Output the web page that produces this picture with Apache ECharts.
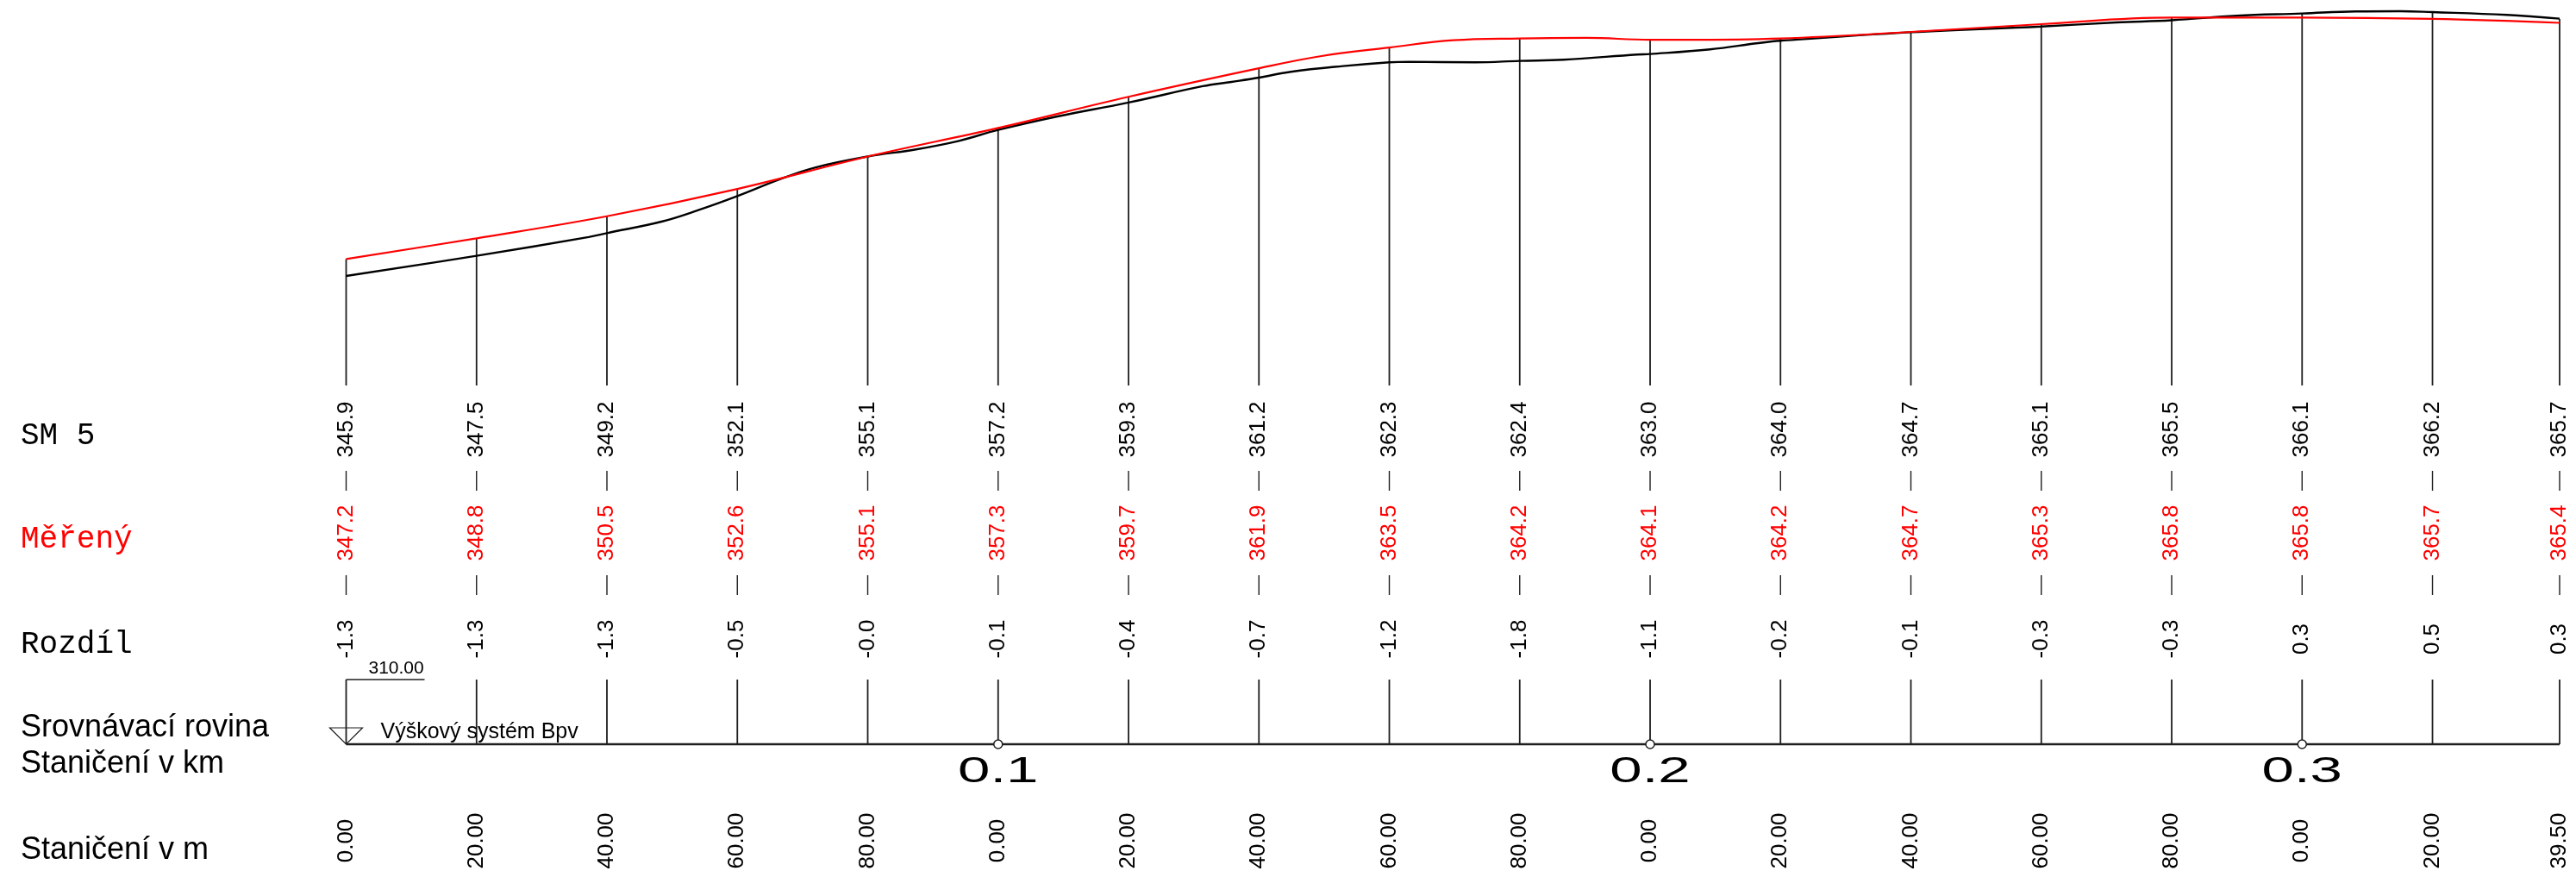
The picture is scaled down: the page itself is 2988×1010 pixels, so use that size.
<!DOCTYPE html>
<html><head><meta charset="utf-8">
<script src="https://cdn.jsdelivr.net/npm/echarts@6/dist/echarts.min.js"></script>
<style>html,body{margin:0;padding:0;background:#fff}#c{width:2988px;height:1010px}</style>
</head><body><div id="c"></div>
<script>
// ---- data ----
const stations = [0,20,40,60,80,100,120,140,160,180,200,220,240,260,280,300,320,339.5];
const stationLabels = ['0.00','20.00','40.00','60.00','80.00','0.00','20.00','40.00','60.00','80.00','0.00','20.00','40.00','60.00','80.00','0.00','20.00','39.50'];
const sm5Values = [345.9,347.5,349.2,352.1,355.1,357.2,359.3,361.2,362.3,362.4,363.0,364.0,364.7,365.1,365.5,366.1,366.2,365.7];
const measuredValues = [347.2,348.8,350.5,352.6,355.1,357.3,359.7,361.9,363.5,364.2,364.1,364.2,364.7,365.3,365.8,365.8,365.7,365.4];
const diffLabels = ['-1.3','-1.3','-1.3','-0.5','-0.0','-0.1','-0.4','-0.7','-1.2','-1.8','-1.1','-0.2','-0.1','-0.3','-0.3','0.3','0.5','0.3'];
const kmStations = [100,200,300];
const kmLabels = ['0.1','0.2','0.3'];
const sm5Profile = [[0,345.9],[20,347.45],[37.2,348.9],[40,349.2],[48.5,350.1],[54.2,351.0],[60,352.05],[66.6,353.36],[71.9,354.25],[80,355.1],[87.4,355.65],[94,356.31],[100,357.15],[109.1,358.19],[120,359.26],[131.4,360.52],[135.8,360.85],[140,361.18],[144.9,361.63],[152.9,362.07],[160,362.36],[163,362.4],[173.2,362.36],[180,362.47],[186.7,362.56],[198,362.96],[200,363.0],[209.2,363.36],[216.6,363.84],[220,364.02],[240,364.68],[260,365.12],[271.5,365.43],[280,365.6],[290,365.95],[300,366.12],[308.2,366.28],[315,366.3],[320,366.23],[331.4,366.01],[339.5,365.72]];
const measuredProfile = [[0,347.2],[20,348.8],[40,350.5],[60,352.6],[80,355.1],[100,357.3],[120,359.7],[140,361.9],[149.6,362.84],[160,363.5],[169.8,364.06],[180,364.2],[190.2,364.24],[200,364.1],[205.2,364.1],[220,364.2],[240,364.7],[260,365.3],[280,365.8],[300,365.8],[320,365.7],[339.5,365.4]];
const rowTitles = ['SM 5','Měřený','Rozdíl'];
const sideTitles = ['Srovnávací rovina','Staničení v km','Staničení v m'];
const datumLabel = '310.00';
const heightSystem = 'Výškový systém Bpv';

// ---- layout ----
const Y_SM5 = 498, Y_MER = 618, Y_DIFF = 741;
const DASH1 = [546,569], DASH2 = [667,690];
const TICK_TOP = 788, DATUM_Y = 863, KM_Y = 895, M_Y = 975;
const NUM_FONT = '26px "Liberation Sans", Arial, sans-serif';
const LINE_C = '#1e1e1e';

function vtext(x, y, txt, color) {
  return {type:'text', x:x, y:y, rotation:Math.PI/2,
    style:{text:txt, fill:color, font:NUM_FONT, align:'center', verticalAlign:'middle'}};
}
function vline(x, y1, y2, w) {
  return {type:'line', shape:{x1:x,y1:y1,x2:x,y2:y2}, style:{stroke:LINE_C, lineWidth:w||1.8}};
}

const chart = echarts.init(document.getElementById('c'));
chart.setOption({
  animation:false,
  backgroundColor:'#fff',
  grid:{left:401.5, right:19, top:0, height:447},
  xAxis:{type:'value', min:0, max:339.5, show:false},
  yAxis:{type:'value', min:337.46, max:367.16, show:false},
  graphic:[
    {type:'text', left:24, top:487, style:{text:rowTitles[0], font:'36px "Liberation Mono", "Courier New", monospace', fill:'#000'}},
    {type:'text', left:24, top:607, style:{text:rowTitles[1], font:'36px "Liberation Mono", "Courier New", monospace', fill:'#ff0000'}},
    {type:'text', left:24, top:729, style:{text:rowTitles[2], font:'36px "Liberation Mono", "Courier New", monospace', fill:'#000'}},
    {type:'text', left:24, top:826, style:{text:sideTitles[0], font:'36px "Liberation Sans", Arial, sans-serif', fill:'#000'}},
    {type:'text', left:24, top:868, style:{text:sideTitles[1], font:'36px "Liberation Sans", Arial, sans-serif', fill:'#000'}},
    {type:'text', left:24, top:968, style:{text:sideTitles[2], font:'36px "Liberation Sans", Arial, sans-serif', fill:'#000'}}
  ],
  series:[
    {
      type:'custom', name:'stations', z:1,
      data: stations.map((s,i)=>[s, sm5Values[i], measuredValues[i], i]),
      encode:{x:0, y:1},
      renderItem:function(params, api){
        const i = api.value(3);
        const s = api.value(0);
        const top = api.coord([s, Math.max(api.value(1), api.value(2))]);
        const x = top[0];
        const cs = params.coordSys;
        const bottom = cs.y + cs.height;
        return {type:'group', children:[
          vline(x, top[1], bottom),
          vline(x, DASH1[0], DASH1[1], 1.4),
          vline(x, DASH2[0], DASH2[1], 1.4),
          vtext(x, Y_SM5, api.value(1).toFixed(1), '#000'),
          vtext(x, Y_MER, api.value(2).toFixed(1), '#ff0000'),
          vtext(x, Y_DIFF, diffLabels[i], '#000'),
          vline(x, TICK_TOP, DATUM_Y),
          vtext(x, M_Y, stationLabels[i], '#000')
        ]};
      }
    },
    {
      type:'custom', name:'datum', z:2,
      data:[[stations[0], stations[stations.length-1]]],
      encode:{x:[0,1]},
      renderItem:function(params, api){
        const x0 = api.coord([api.value(0), 340])[0];
        const x1 = api.coord([api.value(1), 340])[0];
        return {type:'group', children:[
          {type:'line', shape:{x1:x0,y1:DATUM_Y,x2:x1,y2:DATUM_Y}, style:{stroke:LINE_C, lineWidth:2.6}},
          {type:'line', shape:{x1:x0,y1:TICK_TOP,x2:x0+91,y2:TICK_TOP}, style:{stroke:LINE_C, lineWidth:1.4}},
          {type:'polygon', shape:{points:[[x0-19,844],[x0+19,844],[x0,DATUM_Y]]}, style:{fill:'none', stroke:LINE_C, lineWidth:1.2}},
          {type:'text', x:x0+26, y:786, style:{text:datumLabel, font:'21px "Liberation Sans", Arial, sans-serif', fill:'#000', align:'left', verticalAlign:'bottom'}},
          {type:'text', x:x0+40, y:849, style:{text:heightSystem, font:'25px "Liberation Sans", Arial, sans-serif', fill:'#000', align:'left', verticalAlign:'middle'}}
        ]};
      }
    },
    {
      type:'custom', name:'km', z:3,
      data: kmStations.map((s,i)=>[s,i]),
      encode:{x:0},
      renderItem:function(params, api){
        const x = api.coord([api.value(0), 340])[0];
        return {type:'group', children:[
          {type:'circle', shape:{cx:x, cy:DATUM_Y, r:5}, style:{fill:'#fff', stroke:LINE_C, lineWidth:1.5}},
          {type:'text', x:x, y:KM_Y, scaleX:1.6, style:{text:kmLabels[api.value(1)], font:'42px "Liberation Sans", Arial, sans-serif', fill:'#000', align:'center', verticalAlign:'middle'}}
        ]};
      }
    },
    {
      type:'line', name:'SM 5', z:5, data:sm5Profile, showSymbol:false, symbol:'none',
      smooth:0.4, lineStyle:{color:'#000', width:2.4}
    },
    {
      type:'line', name:'Měřený', z:6, data:measuredProfile, showSymbol:false, symbol:'none',
      smooth:0.4, lineStyle:{color:'#ff0000', width:2.2}
    }
  ]
});
</script>
</body></html>
